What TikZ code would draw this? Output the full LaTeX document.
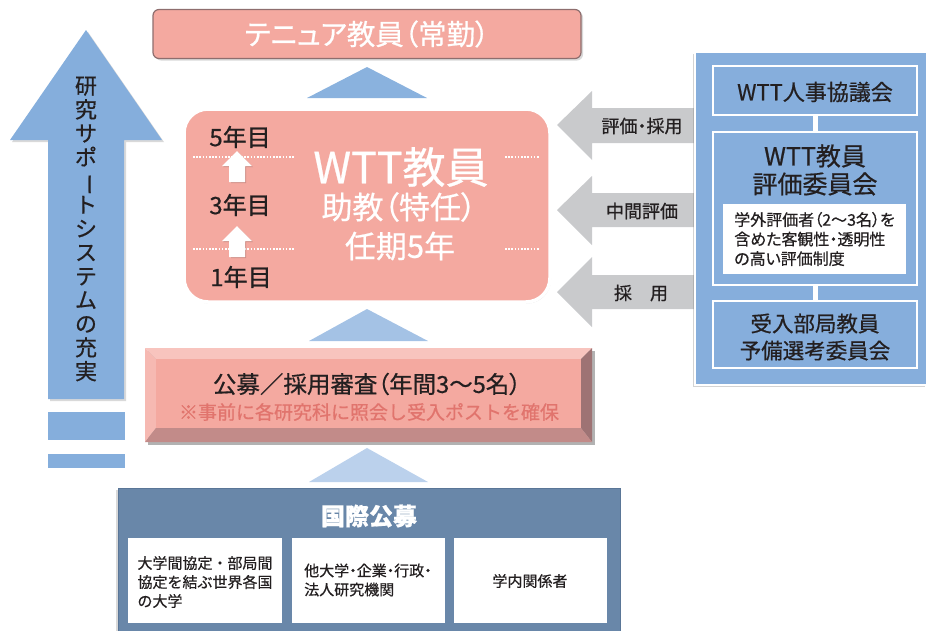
\documentclass[tikz,border=0pt]{standalone}
\usepackage{fontspec}
\usepackage{graphicx}
\setmainfont[FakeBold=0.6]{Noto Sans CJK JP}
\newfontfamily\pf[RawFeature=+palt, FakeBold=0.6]{Noto Sans CJK JP}
\usetikzlibrary{shadows}
\definecolor{salmon}{HTML}{F4A9A0}
\definecolor{salmonD}{HTML}{8E6E6E}
\definecolor{arrowblue}{HTML}{85AEDC}
\definecolor{triA}{HTML}{8AB2DE}
\definecolor{triB}{HTML}{A4C2E5}
\definecolor{triC}{HTML}{BBD1EC}
\definecolor{grayarrow}{HTML}{C9CACC}
\definecolor{panelblue}{HTML}{86AEDC}
\definecolor{kokusai}{HTML}{6987A9}
\definecolor{kokusaiD}{HTML}{5A7697}
\definecolor{bevT}{HTML}{F8C4BE}
\definecolor{bevL}{HTML}{F6B9B2}
\definecolor{bevR}{HTML}{9E7374}
\definecolor{bevB}{HTML}{C28B89}
\definecolor{notered}{HTML}{E1746D}
\definecolor{txt}{HTML}{231F20}
\tikzset{
  fs/.style={font=\fontsize{#1}{#1}\selectfont},
  shadowed/.style={drop shadow={opacity=0.3, shadow xshift=2pt, shadow yshift=-2pt}},
  innerbox/.style={draw=white, line width=2.5pt, fill=panelblue, minimum width=204, text=txt},
  whitebox/.style={fill=white, text=txt},
  dotline/.style={white, line width=1.6pt, dash pattern=on 1.6pt off 1.6pt},
}
\begin{document}
\begin{tikzpicture}[x=1pt,y=-1pt, every node/.style={inner sep=0pt, outer sep=0pt}]
\useasboundingbox (0,0) rectangle (927,630);

% left big arrow
\fill[black, opacity=0.15] (88,32) -- (164,142) -- (126,142) -- (126,401) -- (50,401) -- (50,142) -- (12,142) -- cycle;
\fill[arrowblue] (86,30) -- (162,140) -- (124,140) -- (124,399) -- (48,399) -- (48,140) -- (10,140) -- cycle;
\fill[arrowblue] (48,412) rectangle (125,440);
\fill[arrowblue] (48,454) rectangle (125,468);
\node[font=\fontsize{22}{23.8}\selectfont, align=center, text=txt] (vt) at (86,229)
  {研\\究\\サ\\ポ\\\rotatebox[origin=c]{-90}{ー}\\ト\\シ\\ス\\テ\\ム\\の\\充\\実};

% tenure box
\node[draw=salmonD, line width=1.2pt, fill=salmon, rounded corners=6pt, minimum width=428, minimum height=49, shadowed, text=white, fs=28.5] (ten) at (367,34) {\pf テニュア教員（常勤）};

% triangles
\fill[triA] (367,67) -- (427,98) -- (307,98) -- cycle;
\fill[triB] (367,309) -- (428,341) -- (309,341) -- cycle;
\fill[triC] (367,448) -- (428,482) -- (309,482) -- cycle;

% WTT box
\node[draw=white, line width=3.5pt, fill=salmon, rounded corners=24pt, minimum width=366, minimum height=193, drop shadow={opacity=0.25, shadow xshift=1pt, shadow yshift=-1.5pt}] (wtt) at (367,205.5) {};
\draw[dotline] (193,157) -- (295,157);
\draw[dotline] (193,249) -- (295,249);
\draw[dotline] (505,157) -- (540,157);
\draw[dotline] (505,249) -- (540,249);
\fill[black,opacity=0.15] (238,152) -- (253,167) -- (246,167) -- (246,183) -- (231,183) -- (231,167) -- (223,167) -- cycle;
\fill[white] (237,151) -- (252,166) -- (245,166) -- (245,182) -- (229,182) -- (229,166) -- (222,166) -- cycle;
\fill[black,opacity=0.15] (238,227) -- (253,242) -- (246,242) -- (246,258) -- (231,258) -- (231,242) -- (223,242) -- cycle;
\fill[white] (237,226) -- (252,241) -- (245,241) -- (245,257) -- (229,257) -- (229,241) -- (222,241) -- cycle;
\node[fs=24, text=txt] (y5) at (240,137) {5年目};
\node[fs=24, text=txt] (y3) at (240,205) {3年目};
\node[fs=24, text=txt] (y1) at (241,277) {1年目};
\node[fs=43, text=white] (wttA) at (401,167) {WTT教員};
\node[fs=31, text=white] (wttB) at (399,207) {\pf 助教（特任）};
\node[fs=31, text=white] (wttC) at (400,246) {任期5年};

% gray arrows
\fill[grayarrow] (557,125) -- (592,91) -- (592,108) -- (697,108) -- (697,143) -- (592,143) -- (592,160) -- cycle;
\fill[grayarrow] (557,210) -- (592,176) -- (592,193) -- (697,193) -- (697,227) -- (592,227) -- (592,245) -- cycle;
\fill[grayarrow] (557,292) -- (592,257) -- (592,275) -- (697,275) -- (697,309) -- (592,309) -- (592,327) -- cycle;
\node[fs=18, text=txt] (l1) at (642,126) {\pf 評価・採用};
\node[fs=18, text=txt] (l2) at (642,211) {中間評価};
\node[fs=18, text=txt] (l3) at (641,293) {採　用};

% right panel
\node[draw=white, line width=1.5pt, fill=panelblue, minimum width=232, minimum height=333, drop shadow={opacity=0.35, shadow xshift=-2pt, shadow yshift=-2pt}] (panel) at (811,218.5) {};
\node[innerbox, minimum height=49] (bA) at (815,90.5) {};
\node[fs=22, text=txt] (bAt) at (815,92) {WTT人事協議会};
\node[innerbox, minimum height=153] (bB) at (815,208.5) {};
\node[fs=25, text=txt] (bBt1) at (815,156) {WTT教員};
\node[fs=25, text=txt] (bBt2) at (815,184) {評価委員会};
\node[whitebox, minimum width=183, minimum height=70, align=left, font=\pf\fontsize{16}{19.5}\selectfont] (bBw) at (814.5,239) {学外評価者（2〜3名）を\\含めた客観性・透明性\\の高い評価制度};
\node[innerbox, minimum height=67] (bC) at (815,334.5) {};
\node[align=center, text=txt, font=\fontsize{21.5}{27}\selectfont] (bCt) at (815,337) {受入部局教員\\予備選考委員会};
\draw[white, line width=5pt] (bA.south) -- (bB.north);
\draw[white, line width=5pt] (bB.south) -- (bC.north);

% bevel box
\fill[black, opacity=0.3] (148,351) rectangle (595,445);
\fill[bevT] (145,348) -- (592,348) -- (581,359) -- (156,359) -- cycle;
\fill[bevL] (145,348) -- (156,359) -- (156,428) -- (145,442) -- cycle;
\fill[bevR] (592,348) -- (592,442) -- (581,428) -- (581,359) -- cycle;
\fill[bevB] (145,442) -- (156,428) -- (581,428) -- (592,442) -- cycle;
\node[fill=salmon, minimum width=425, minimum height=69] (kobo) at (368.5,393.5) {};
\node[fs=23.5, text=txt] (koboA) at (367,384) {\pf 公募／採用審査（年間3〜5名）};
\node[fs=19, text=notered] (koboB) at (369,412) {※事前に各研究科に照会し受入ポストを確保};

% kokusai box
\node[fill=kokusai, draw=kokusaiD, line width=1pt, minimum width=502, minimum height=143, drop shadow={opacity=0.3, shadow xshift=-2pt, shadow yshift=-2pt}] (kk) at (369,559.5) {};
\node[text=white, font=\bfseries\fontsize{24}{30}\selectfont] (kkt) at (369,516) {国際公募};
\node[whitebox, minimum width=154, minimum height=85] (k1) at (205,580.5) {};
\node[align=left, text=txt, font=\fontsize{15}{19}\selectfont] (k1t) at (205,582) {大学間協定・部局間\\協定を結ぶ世界各国\\の大学};
\node[whitebox, minimum width=153, minimum height=85] (k2) at (368.5,580.5) {};
\node[align=left, text=txt, font=\pf\fontsize{15}{19}\selectfont] (k2t) at (368,580) {他大学・企業・行政・\\法人研究機関};
\node[whitebox, minimum width=153, minimum height=85] (k3) at (530.5,580.5) {};
\node[fs=15, text=txt] (k3t) at (530,581) {学内関係者};
\end{tikzpicture}
\end{document}
